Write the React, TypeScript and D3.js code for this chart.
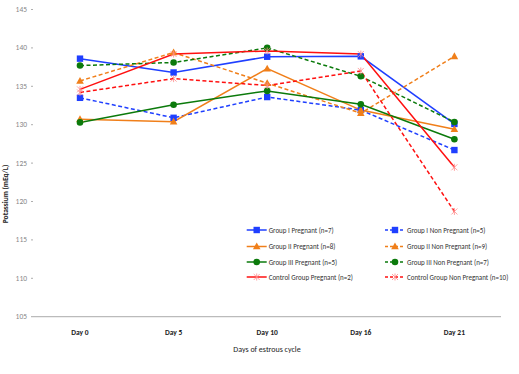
import React from "react";
import * as d3 from "d3";

const days = ["Day 0", "Day 5", "Day 10", "Day 16", "Day 21"];
const yTicks = [105, 110, 115, 120, 125, 130, 135, 140, 145];

const g1Preg = [138.6, 136.8, 138.85, 138.9, 130.1];
const g1Non = [133.5, 130.9, 133.6, 131.9, 126.7];
const g2Preg = [130.7, 130.4, 137.3, 131.9, 129.4];
const g2Non = [135.7, 139.4, 135.4, 131.5, 138.9];
const g3Preg = [130.3, 132.6, 134.4, 132.65, 128.1];
const g3Non = [137.7, 138.1, 140.0, 136.3, 130.35];
const cPreg = [134.6, 139.2, 139.6, 139.2, 124.45];
const cNon = [134.2, 136.0, 135.1, 137.0, 118.7];

type S = { name: string; values: number[]; color: string; dashed: boolean; marker: string };
const series: S[] = [
  { name: "Group I Pregnant (n=7)", values: g1Preg, color: "#1f3fff", dashed: false, marker: "square" },
  { name: "Group I Non Pregnant (n=5)", values: g1Non, color: "#1f3fff", dashed: true, marker: "square" },
  { name: "Group II Pregnant (n=8)", values: g2Preg, color: "#f07f1a", dashed: false, marker: "triangle" },
  { name: "Group II Non Pregnant (n=9)", values: g2Non, color: "#f07f1a", dashed: true, marker: "triangle" },
  { name: "Group III Pregnant (n=5)", values: g3Preg, color: "#0b7a0b", dashed: false, marker: "circle" },
  { name: "Group III Non Pregnant (n=7)", values: g3Non, color: "#0b7a0b", dashed: true, marker: "circle" },
  { name: "Control Group Pregnant (n=2)", values: cPreg, color: "#ff1010", dashed: false, marker: "star" },
  { name: "Control Group Non Pregnant (n=10)", values: cNon, color: "#ff1010", dashed: true, marker: "star" },
];

function Marker({ type, x, y, color }: { type: string; x: number; y: number; color: string }) {
  if (type === "square") return <rect x={x - 3.2} y={y - 3.2} width={6.4} height={6.4} fill={color} />;
  if (type === "triangle") return <path d={`M${x},${y - 4}L${x + 3.8},${y + 2.8}L${x - 3.8},${y + 2.8}Z`} fill={color} />;
  if (type === "circle") return <circle cx={x} cy={y} r={3.3} fill={color} />;
  const c = "#ff8a8a";
  return (
    <g stroke={c} strokeWidth={0.8}>
      <line x1={x - 3} y1={y - 3} x2={x + 3} y2={y + 3} />
      <line x1={x - 3} y1={y + 3} x2={x + 3} y2={y - 3} />
      <line x1={x} y1={y - 3.5} x2={x} y2={y + 3.5} />
    </g>
  );
}

export default function App() {
  const W = 519, H = 374;
  const x = d3.scaleBand<string>().domain(days).range([33.2, 501.2]);
  const y = d3.scaleLinear().domain([105, 145]).range([316.7, 9.5]);
  const cx = (d: string) => (x(d) as number) + x.bandwidth() / 2;
  const line = d3.line<number>().x((_, i) => cx(days[i])).y((v) => y(v));
  const font = "Calibri, Carlito, 'Liberation Sans', Arial, sans-serif";
  const legX = [246.7, 385];
  const legY = [230, 246.5, 262, 277];
  return (
    <svg width={W} height={H} style={{ position: "absolute", left: 0, top: 0, background: "#fff" }} fontFamily={font}>
      {yTicks.map((t) => (
        <g key={t}>
          <text x={27} y={y(t) + 2.5} textAnchor="end" fontSize={7.5} fill="#888">{t}</text>
          {t !== 105 && <line x1={31} x2={33} y1={y(t)} y2={y(t)} stroke="#999" strokeWidth={0.8} />}
        </g>
      ))}
      <line x1={31} x2={501} y1={y(105)} y2={y(105)} stroke="#bbb" strokeWidth={1.2} />
      {days.map((d) => (
        <text key={d} x={cx(d)} y={335} textAnchor="middle" fontSize={7.5} fill="#222" fontWeight={600}>{d}</text>
      ))}
      <text x={267} y={352} textAnchor="middle" fontSize={8} fill="#222">Days of estrous cycle</text>
      <text transform={`translate(8,194) rotate(-90)`} textAnchor="middle" fontSize={7.5} fill="#222" fontWeight={600}>Potassium (mEq/L)</text>
      {series.map((s) => (
        <path key={s.name} d={line(s.values) || ""} fill="none" stroke={s.color} strokeWidth={1.5}
          strokeDasharray={s.dashed ? "4,2.5" : undefined} />
      ))}
      {series.map((s) => s.values.map((v, i) => (
        <Marker key={s.name + i} type={s.marker} x={cx(days[i])} y={y(v)} color={s.color} />
      )))}
      {series.map((s, i) => {
        const lx = legX[i % 2];
        const ly = legY[Math.floor(i / 2)];
        return (
          <g key={"leg" + s.name}>
            <line x1={lx} x2={lx + 20} y1={ly} y2={ly} stroke={s.color} strokeWidth={1.5}
              strokeDasharray={s.dashed ? "3,2" : undefined} />
            <Marker type={s.marker} x={lx + 10} y={ly} color={s.color} />
            <text x={lx + 22} y={ly + 2.5} fontSize={7} fill="#333">{s.name}</text>
          </g>
        );
      })}
    </svg>
  );
}
